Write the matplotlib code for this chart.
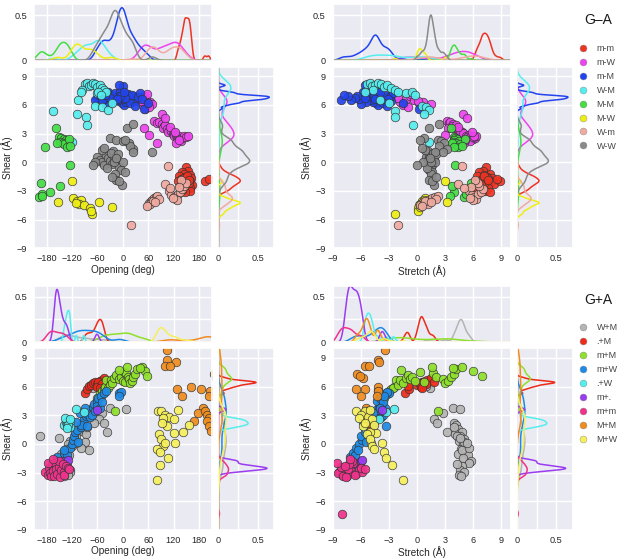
import numpy as np
import matplotlib
matplotlib.use("Agg")
import matplotlib.pyplot as plt
from matplotlib.lines import Line2D
import seaborn as sns

# each row: opening (deg), stretch (A), shear (A)
ga_m_m = np.array([
    [150, 7.4, -0.5], [155, 7.0, -0.9], [140, 6.6, -1.0], [145, 7.8, -1.2], [158, 7.2, -1.3],
    [132, 6.4, -1.4], [148, 7.5, -1.5], [162, 8.0, -1.6], [138, 6.9, -1.7], [152, 7.3, -1.8],
    [145, 7.7, -1.9], [160, 6.8, -2.0], [130, 6.2, -2.0], [155, 7.9, -2.1], [142, 7.1, -2.2],
    [150, 8.2, -2.3], [163, 7.4, -2.4], [135, 6.6, -2.5], [147, 7.0, -2.6], [158, 7.6, -2.7],
    [152, 6.9, -2.8], [160, 7.3, -3.0], [148, 7.8, -3.1], [156, 7.2, -2.2], [144, 7.5, -1.6],
    [139, 6.4, -2.9], [153, 7.1, -1.4], [157, 7.6, -1.9], [146, 6.8, -2.4], [194, 8.9, -2.0],
    [203, 8.5, -1.75]])
ga_m_W = np.array([
    [40, -1.8, 6.3], [45, -1.2, 6.6], [50, -0.8, 6.9], [55, -0.3, 6.5], [60, 0.2, 6.2],
    [48, -1.5, 6.0], [65, 0.6, 6.3], [58, -0.6, 7.1], [35, -2.0, 6.7], [70, 1.5, 6.1],
    [52, 1.0, 5.6], [44, 0.1, 6.4], [62, -1.0, 5.8],
    [75, 3.2, 4.3], [80, 3.4, 4.1], [85, 3.5, 4.2], [92, 3.8, 4.0], [98, 3.7, 3.8],
    [95, 4.0, 3.6], [100, 4.2, 3.9], [105, 4.3, 3.5], [110, 4.5, 3.4], [108, 4.8, 3.2],
    [115, 4.6, 3.3], [118, 5.0, 3.0], [120, 4.9, 3.1], [122, 5.2, 2.8], [125, 5.5, 2.9],
    [128, 5.3, 2.6], [130, 5.6, 2.5], [133, 5.8, 2.7], [136, 6.0, 2.4], [138, 5.7, 2.2],
    [140, 6.2, 2.5], [145, 6.3, 2.8], [150, 6.0, 2.6], [155, 6.1, 2.7], [127, 5.0, 2.0],
    [92, 4.9, 5.0], [100, 5.3, 4.6], [49, 3.3, 3.6], [63, 3.0, 2.9], [82, 4.4, 2.0],
    [112, 4.4, 3.7], [124, 5.9, 3.2], [132, 5.1, 2.3]])
ga_m_M = np.array([
    [-35, -5.8, 7.3], [-28, -5.5, 7.0], [-20, -5.2, 6.9], [-15, -4.9, 6.8], [-10, -4.6, 6.8],
    [-5, -4.4, 6.7], [0, -4.3, 6.9], [5, -4.1, 6.8], [10, -3.8, 6.6], [15, -3.5, 6.7],
    [20, -3.3, 6.5], [25, -3.0, 6.9], [30, -2.8, 6.4], [-8, -4.5, 6.4], [-3, -4.4, 6.2],
    [2, -4.2, 6.0], [8, -4.7, 6.3], [-12, -5.0, 6.5], [-25, -5.4, 6.3], [-40, -6.0, 6.1],
    [-45, -6.2, 6.6], [-50, -6.4, 6.9], [-18, -4.8, 7.2], [-6, -4.3, 7.4], [12, -3.9, 7.1],
    [22, -3.4, 7.0], [35, -2.9, 6.8], [40, -2.6, 7.2], [45, -3.1, 6.6], [-2, -4.4, 7.0],
    [4, -4.5, 6.6], [-30, -5.6, 6.7], [18, -3.6, 6.2], [28, -3.2, 5.9], [-60, -6.6, 6.7],
    [-65, -7.0, 6.5], [-55, -7.4, 6.9], [-48, -8.1, 6.5], [-42, -7.8, 7.0], [50, 0.25, 5.6],
    [0, -5.0, 8.0], [-10, -5.5, 8.1], [60, -1.5, 6.2], [-1, -4.4, 6.8], [6, -4.3, 6.7],
    [-7, -4.6, 6.9], [3, -4.0, 7.3], [-14, -4.5, 6.6]])
ga_W_M = np.array([
    [-90, -5.3, 8.2], [-85, -5.0, 8.3], [-80, -4.8, 8.0], [-75, -4.5, 8.1], [-70, -4.2, 8.3],
    [-65, -3.8, 8.2], [-60, -3.5, 7.9], [-55, -3.2, 8.1], [-50, -2.8, 7.8], [-45, -2.4, 7.6],
    [-40, -2.0, 7.3], [-62, -1.2, 7.2], [-58, -0.5, 7.3], [-52, -0.2, 7.0], [-96, -4.7, 7.6],
    [-100, -5.5, 7.4], [-105, -4.0, 6.5], [-65, 0.5, 5.9], [-48, 1.0, 5.8], [-35, 1.3, 5.5],
    [-25, -3.0, 6.2], [-165, -2.4, 5.4], [-108, 0.8, 5.1], [-86, -2.4, 4.7], [-85, -0.4, 3.9],
    [-120, 1.3, 2.1]])
ga_M_M = np.array([
    [-150, 3.9, 2.6], [-145, 4.1, 2.5], [-140, 4.3, 2.4], [-135, 4.0, 2.3], [-130, 4.5, 2.2],
    [-148, 3.8, 2.1], [-142, 4.2, 2.0], [-138, 4.6, 1.9], [-155, 3.7, 2.0], [-128, 5.1, 2.4],
    [-133, 4.4, 1.6], [-125, 4.8, 1.7], [-157, 3.6, 3.6], [-183, 3.9, 1.6], [-124, 4.1, -0.3],
    [-194, 5.8, -2.2], [-171, 4.0, -3.1], [-149, 3.7, -2.5], [-198, 5.0, -3.65],
    [-190, 5.2, -3.3], [-192, 3.5, -3.5]])
ga_M_W = np.array([
    [-120, 3.0, -2.0], [-154, 3.25, -4.2], [-117, 0.9, -3.7], [-108, 0.5, -4.1], [-100, 0.7, -3.9],
    [-104, 0.3, -4.4], [-92, 0.2, -4.5], [-77, 0.1, -4.8], [-73, -2.3, -5.4], [-75, 0.15, -5.05],
    [-57, 0.6, -4.15], [-26, 0.3, -4.7], [-110, 1.0, -4.3]])
ga_W_m = np.array([
    [60, 0.3, -4.5], [63, 0.7, -4.3], [67, 1.0, -4.1], [70, 1.3, -3.9], [74, 1.6, -3.7],
    [78, 1.9, -3.6], [82, 2.2, -3.5], [65, 1.2, -4.4], [72, 0.9, -4.0], [85, 2.0, -3.8],
    [58, 0.5, -4.6], [76, 1.5, -4.2],
    [110, 5.6, -3.0], [115, 5.9, -3.4], [120, 6.1, -3.6], [125, 6.3, -3.8], [130, 6.5, -3.3],
    [135, 6.8, -3.1], [140, 7.0, -2.8], [145, 6.6, -2.5], [128, 6.0, -3.9], [118, 5.7, -3.7],
    [150, 6.5, -2.2], [138, 6.2, -1.9], [132, 5.8, -2.6],
    [20, -2.0, -6.6], [106, 4.8, -0.35], [101, 4.35, -2.3], [112, 5.0, -2.7]])
ga_W_W = np.array([
    [-60, 1.0, 0.5], [-55, 1.2, 0.2], [-50, 1.4, 0.0], [-45, 1.6, -0.3], [-40, 1.3, 0.8],
    [-35, 1.5, 0.4], [-30, 1.7, 0.1], [-25, 1.4, -0.2], [-20, 1.6, 0.6], [-15, 1.8, 0.3],
    [-10, 1.5, -0.5], [-5, 1.3, -0.8], [0, 1.9, 0.0], [5, 1.6, -1.0], [-22, 1.2, 1.2],
    [-28, 1.7, 1.0], [-18, 1.5, -1.2], [-12, 2.0, 0.9], [-38, 1.1, -0.6], [-48, 0.9, 1.3],
    [-65, 0.6, 0.0], [-70, 0.0, -0.3], [-44, 0.5, 1.5], [-30, 0.8, 2.5], [-15, 2.2, 2.3],
    [0, 2.6, 2.2], [15, 2.9, 2.0], [25, 3.2, 1.4], [17, 2.4, 1.7], [24, 2.8, 1.1],
    [10, 1.3, 3.55], [25, 2.3, 4.0], [70, 1.9, 1.1], [-15, 1.25, -1.85], [-2, 1.8, -2.4],
    [-8, 1.6, -2.0], [5, 0.3, 2.3], [-25, 2.0, -1.5], [-20, 1.5, 0.0], [-17, 1.4, 0.4]])

gpa_W_M = np.array([
    [-30, 3.8, 3.8], [8, 4.6, 3.7], [-50, 2.8, 3.25], [-57, 1.8, 2.65], [-45, 2.1, 2.2],
    [-69, 4.0, 2.2], [-37, 3.2, 1.2], [-100, 4.2, 2.0], [-95, 4.4, 1.6], [-105, 4.8, 1.3],
    [-88, 4.1, 1.0], [-110, 4.6, 0.8], [-116, 5.0, 0.5], [-196, 4.3, 0.8], [-125, 4.5, 0.3],
    [-130, 4.9, 0.0], [-120, 5.2, -0.2], [-135, 4.7, -0.5], [-140, 5.1, -0.8], [-147, 4.4, -1.0],
    [-128, 5.4, -1.2], [-81, 4.8, -0.6], [-90, 5.0, 0.2], [-98, 5.5, -0.4], [-142, 4.9, -1.45],
    [-135, 5.8, -1.8], [-132, 5.6, -2.0], [-138, 4.8, -2.3], [-126, 4.6, -2.7], [-124, 5.0, -2.9],
    [-130, 4.5, -3.2], [-139, 4.7, -3.4], [-70, 1.4, 5.85], [-60, 1.0, 6.1], [-145, 4.3, -2.1],
    [-110, 5.3, 0.1], [-85, 4.0, 1.8], [-150, 4.6, 0.6]])
gpa_dot_M = np.array([
    [-90, -1.3, 5.3], [-85, -0.9, 5.7], [-80, -1.0, 6.1], [-75, 0.0, 6.2], [-70, 0.3, 6.4],
    [-65, 0.5, 6.5], [-60, 0.7, 6.3], [-55, 0.9, 6.6], [-50, 1.1, 6.7], [-47, 0.6, 6.5],
    [-45, 1.5, 6.9], [-52, 0.2, 6.4], [-58, 1.8, 6.5], [-62, 0.4, 6.0], [-48, 1.0, 6.3],
    [-55, 0.5, 5.9]])
gpa_m_M = np.array([
    [-61, -3.5, 4.8], [-55, -3.2, 5.2], [-50, -3.0, 5.5], [-45, -2.8, 5.7], [-42, -2.5, 6.0],
    [-39, -2.2, 6.7], [-35, -2.6, 5.9], [-30, -2.0, 6.2], [-28, -1.8, 6.7], [-25, -1.5, 6.4],
    [-20, -1.2, 6.9], [-15, -1.0, 7.2], [-10, -0.8, 6.8], [-5, -0.5, 7.0], [0, -0.2, 6.6],
    [2, 0.3, 7.5], [5, 0.8, 6.5], [8, 1.7, 7.4], [12, 2.0, 7.0], [15, 2.8, 6.8],
    [18, 3.0, 6.4], [22, 3.3, 6.6], [25, 3.6, 7.0], [28, 4.0, 7.3], [33, 4.2, 7.8],
    [45, 4.8, 8.1], [53, 6.0, 7.6], [57, 6.9, 7.1], [40, 3.8, 7.9], [-19, 2.2, 3.5],
    [-8, -1.7, 7.7], [10, 1.6, 8.0]])
gpa_m_W = np.array([
    [-155, -7.2, -1.4], [-140, -6.8, -0.9], [-131, -6.6, -1.2], [-125, -6.5, -0.4], [-120, -6.2, 0.0],
    [-118, -5.9, 0.4], [-115, -6.0, 0.8], [-112, -5.6, 1.2], [-108, -5.2, 1.5], [-105, -5.4, 0.2],
    [-100, -5.0, 1.8], [-95, -4.6, 2.2], [-92, -4.8, 2.6], [-88, -4.2, 2.9], [-85, -4.5, 3.1],
    [-80, -4.0, 3.3], [-78, -3.8, 2.8], [-75, -4.4, 3.6], [-72, -3.6, 3.0], [-70, -4.1, 3.9],
    [-68, -3.9, 4.2], [-65, -3.5, 3.4], [-62, -4.3, 4.5], [-60, -3.7, 4.0], [-58, -4.0, 4.8],
    [-55, -3.4, 3.8], [-52, -3.9, 5.0], [-50, -3.6, 4.4], [-45, -3.3, 5.3], [-40, -4.2, 5.5],
    [-10, -3.0, 5.3], [-4, -3.2, 5.4], [-8, -3.5, 5.0], [-98, -4.9, 2.0], [-110, -5.8, 2.3],
    [-102, -4.7, 3.2], [-85, -3.3, 1.9], [-90, -4.0, 3.8], [-145, -6.9, -2.0], [-138, -6.3, -0.6]])
gpa_dot_W = np.array([
    [-140, -5.5, 2.0], [-135, -5.2, 2.3], [-132, -5.0, 2.1], [-130, -5.3, 2.5], [-128, -4.8, 2.2],
    [-126, -5.1, 1.8], [-125, -4.6, 2.4], [-137, -5.4, 2.7], [-129, -4.9, 2.0], [-110, -2.5, 3.7],
    [-92, -3.3, 3.3], [-124, -4.1, 2.6], [-133, -5.6, 1.7]])
gpa_m_dot = np.array([
    [-160, -7.5, -2.6], [-158, -7.3, -2.4], [-156, -7.0, -2.7], [-155, -6.8, -2.5], [-152, -6.6, -2.2],
    [-150, -6.4, -2.8], [-148, -6.2, -2.0], [-145, -7.1, -2.3], [-140, -6.0, -1.8], [-135, -6.5, -2.6],
    [-130, -5.9, -1.7], [-162, -7.6, -2.9], [-157, -7.2, -2.5], [-61, -3.7, 3.6]])
gpa_m_m = np.array([
    [-183, -8.3, -2.9], [-178, -8.0, -3.2], [-175, -7.8, -2.5], [-172, -8.4, -3.0], [-170, -7.5, -3.4],
    [-168, -7.2, -2.2], [-165, -7.0, -2.8], [-162, -7.9, -3.3], [-160, -6.8, -2.0], [-158, -7.4, -2.6],
    [-155, -6.5, -3.1], [-152, -8.1, -2.4], [-150, -6.9, -1.8], [-148, -7.6, -3.5], [-145, -6.2, -2.7],
    [-142, -7.3, -2.1], [-140, -5.9, -2.9], [-138, -6.6, -3.2], [-135, -7.7, -2.3], [-130, -6.0, -2.5],
    [-128, -5.6, -2.6], [-176, -8.5, -2.0], [-166, -7.1, -1.6], [-225, -8.0, -7.3]])
gpa_M_M = np.array([
    [104, -3.45, 9.8], [104, -4.2, 8.8], [127, -4.05, 8.55], [100, -5.5, 8.2], [112, -5.1, 8.2],
    [215, -6.4, 7.3], [220, -5.8, 6.9], [225, -6.1, 7.1], [161, -4.2, 6.0], [206, -4.2, 5.5],
    [129, -6.5, 5.75], [186, -5.5, 5.75], [141, -6.0, 5.05], [203, -4.3, 5.05], [190, -5.4, 3.8],
    [178, -5.6, 3.2], [195, -5.3, 3.4], [200, -5.2, 3.0], [205, -5.5, 2.7], [169, -5.1, 2.4],
    [198, -5.6, 2.4], [204, -5.1, 1.9], [208, -5.0, 1.4]])
gpa_M_W = np.array([
    [84, -6.5, 3.4], [90, -5.5, 3.5], [100, -6.0, 3.0], [110, -5.2, 2.8], [120, -4.8, 2.6],
    [131, -5.0, 3.6], [96, -6.2, 2.7], [104, -5.8, 1.85], [121, -4.4, 1.1], [143, -5.0, 1.2],
    [156, -4.6, 1.95], [123, -4.9, 0.1], [85, -5.3, 1.0], [90, -5.0, 0.5], [95, -4.8, -0.2],
    [82, -4.6, -0.5], [100, -3.7, 0.1], [88, -3.5, -0.8], [106, -3.35, -1.45], [88, -2.7, -2.2],
    [80, -1.5, -3.8], [92, -5.6, 2.2]])

ga_labels = ["m-m", "m-W", "m-M", "W-M", "M-M", "M-W", "W-m", "W-W"]
ga_colors = ["#ee3322", "#ee44ee", "#2244ee", "#55eeee", "#44dd44", "#eeee11", "#f0aaa0", "#8a8a8a"]
ga_groups = [ga_m_m, ga_m_W, ga_m_M, ga_W_M, ga_M_M, ga_M_W, ga_W_m, ga_W_W]
ga_peak_open = [0.47, 0.2, 0.58, 0.22, 0.2, 0.18, 0.15, 0.55]
ga_peak_stretch = [0.3, 0.1, 0.28, 0.06, 0.17, 0.13, 0.05, 0.5]
ga_peak_shear = [0.28, 0.2, 0.65, 0.16, 0.05, 0.28, 0.18, 0.4]

gpa_labels = ["W+M", ".+M", "m+M", "m+W", ".+W", "m+.", "m+m", "M+M", "M+W"]
gpa_colors = ["#b4b4b4", "#ee2a1a", "#8ee02a", "#1e8ae6", "#55eeee", "#9a3cf0", "#f0328c", "#f08c1e", "#f5f05a"]
gpa_groups = [gpa_W_M, gpa_dot_M, gpa_m_M, gpa_m_W, gpa_dot_W, gpa_m_dot, gpa_m_m, gpa_M_M, gpa_M_W]
gpa_peak_open = [0.08, 0.25, 0.1, 0.13, 0.35, 0.58, 0.12, 0.06, 0.16]
gpa_peak_stretch = [0.25, 0.28, 0.05, 0.16, 0.32, 0.62, 0.16, 0.26, 0.12]
gpa_peak_shear = [0.1, 0.48, 0.17, 0.1, 0.38, 0.62, 0.13, 0.05, 0.1]

OPEN_LIM = (-210, 211)
STRETCH_LIM = (-9, 10)
SHEAR_LIM = (-9, 10)

sns.set_theme(style="darkgrid")
plt.rcParams['font.family'] = ['Liberation Sans', 'DejaVu Sans']
plt.rcParams['axes.labelcolor'] = '.15'
plt.rcParams['xtick.color'] = '.15'
plt.rcParams['ytick.color'] = '.15'

fig = plt.figure(figsize=(6.25, 5.59), dpi=100)

MW, MH = 0.2848, 0.3249
TH, GAP = 0.101, 0.011
RX, RW = 0.2949, 0.0891


def kde(vals, grid, peak, adjust=0.8):
    # gaussian kde, silverman bandwidth, scaled to the peak height
    vals = np.asarray(vals, float)
    q75, q25 = np.percentile(vals, [75, 25])
    spread = min(vals.std(ddof=1), (q75 - q25) / 1.34)
    bw = adjust * 0.9 * spread * len(vals) ** (-0.2)
    d = np.exp(-0.5 * ((grid[:, None] - vals[None, :]) / bw) ** 2).sum(axis=1)
    return d / d.max() * peak


def joint(left, bottom, groups, colors, col, xlim, xticks, xlabel, p_top, p_side):
    ax = fig.add_axes([left, bottom, MW, MH])
    axt = fig.add_axes([left, bottom + MH + GAP, MW, TH])
    axr = fig.add_axes([left + RX, bottom, RW, MH])
    xg = np.linspace(xlim[0], xlim[1], 600)
    yg = np.linspace(SHEAR_LIM[0], SHEAR_LIM[1], 600)
    for g, c, pt, ps in zip(groups, colors, p_top, p_side):
        ax.scatter(g[:, col], g[:, 2], s=38, color=c, edgecolor='#333333',
                   linewidth=0.5, alpha=0.92)
        axt.plot(xg, kde(g[:, col], xg, pt), color=c, lw=1.1)
        axr.plot(kde(g[:, 2], yg, ps), yg, color=c, lw=1.1)
    yt = np.arange(-9, 10, 3)
    ax.set_xlim(xlim)
    ax.set_ylim(SHEAR_LIM)
    ax.set_xticks(xticks)
    ax.set_yticks(yt)
    ax.set_xlabel(xlabel, fontsize=7.2, va='top')
    ax.set_ylabel("Shear (Å)", fontsize=7.2)
    ax.xaxis.set_label_coords(0.5, -0.09)
    ax.yaxis.set_label_coords(-0.118, 0.5)

    axt.set_xlim(xlim)
    axt.set_ylim(0, 0.62)
    axt.set_xticks(xticks)
    axt.set_xticklabels([])
    axt.set_yticks([0, 0.25, 0.5])
    axt.set_yticklabels(["0", "", "0.5"])

    axr.set_ylim(SHEAR_LIM)
    axr.set_xlim(0, 0.71)
    axr.set_yticks(yt)
    axr.set_yticklabels([])
    axr.set_xticks([0, 0.25, 0.5])
    axr.set_xticklabels(["0", "", "0.5"])

    for a in (ax, axt, axr):
        a.tick_params(axis='x', labelsize=6.6, length=0, pad=4.2)
        a.tick_params(axis='y', labelsize=6.6, length=0, pad=5)


open_ticks = np.arange(-180, 181, 60)
stretch_ticks = np.arange(-9, 10, 3)

joint(0.0544, 0.5558, ga_groups, ga_colors, 0, OPEN_LIM, open_ticks, "Opening (deg)",
      ga_peak_open, ga_peak_shear)
joint(0.5323, 0.5558, ga_groups, ga_colors, 1, STRETCH_LIM, stretch_ticks, "Stretch (Å)",
      ga_peak_stretch, ga_peak_shear)
joint(0.0544, 0.0519, gpa_groups, gpa_colors, 0, OPEN_LIM, open_ticks, "Opening (deg)",
      gpa_peak_open, gpa_peak_shear)
joint(0.5323, 0.0519, gpa_groups, gpa_colors, 1, STRETCH_LIM, stretch_ticks, "Stretch (Å)",
      gpa_peak_stretch, gpa_peak_shear)


def legend(title, labels, colors, ty, ly):
    fig.text(0.957, ty, title, fontsize=10, ha='center', va='center', color='.1')
    handles = [Line2D([], [], marker='o', ls='', markersize=5, markerfacecolor=c,
                      markeredgecolor='#888888', markeredgewidth=0.3) for c in colors]
    fig.legend(handles, labels, loc='upper left', bbox_to_anchor=(0.92, ly),
               frameon=False, fontsize=6.5, labelspacing=0.55, handletextpad=1.0,
               handlelength=1.0, labelcolor='#444444', borderaxespad=0)


legend("G–A", ga_labels, ga_colors, 0.964, 0.928)
legend("G+A", gpa_labels, gpa_colors, 0.463, 0.428)

fig.savefig("out.png", dpi=100)
